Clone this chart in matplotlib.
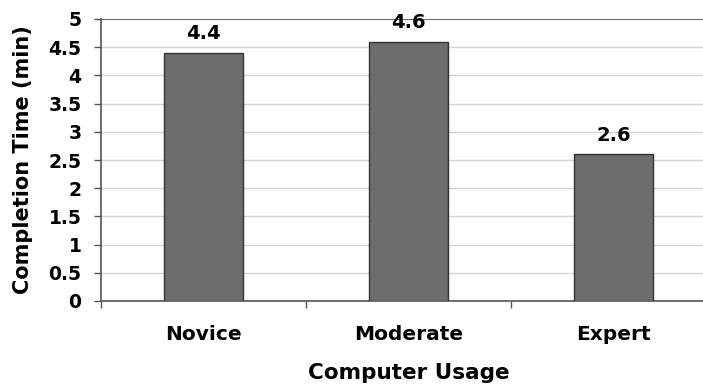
import matplotlib.pyplot as plt
import numpy as np

plt.rcParams['font.family'] = ['DejaVu Sans']
plt.rcParams['font.weight'] = 'bold'

categories = ['Novice', 'Moderate', 'Expert']
times = [4.4, 4.6, 2.6]
yticks = [0, 0.5, 1, 1.5, 2, 2.5, 3, 3.5, 4, 4.5, 5]
ytick_labels = ['0', '0.5', '1', '1.5', '2', '2.5', '3', '3.5', '4', '4.5', '5']

fig = plt.figure(figsize=(7.03, 3.84), dpi=100)
ax = fig.add_axes([101 / 703, 83 / 384, 615 / 703, 282 / 384])

x = np.arange(len(categories))
bars = ax.bar(x, times, width=0.39, color='#6d6d6d', edgecolor='#333333',
              linewidth=1, zorder=3)

# value labels above bars
for b, v in zip(bars, times):
    ax.text(b.get_x() + b.get_width() / 2, v + 0.17, f'{v:.1f}',
            ha='center', va='bottom', fontsize=14, fontweight='bold', zorder=4)

ax.set_xlim(-0.5, 2.5)
ax.set_ylim(0, 5)
ax.set_yticks(yticks)
ax.set_yticklabels(ytick_labels)
ax.set_xticks(x)
ax.set_xticklabels(categories)
ax.set_xticks([-0.5, 0.5, 1.5, 2.5], minor=True)
ax.tick_params(axis='x', which='major', length=0, pad=17, labelsize=14.5)
ax.tick_params(axis='x', which='minor', length=5, width=1, color='#555555')
ax.tick_params(axis='y', length=5, width=1, color='#555555', labelsize=13.5, pad=9)

ax.grid(axis='y', color='#d4d4d4', linewidth=1, zorder=0)
ax.axhline(5, color='#555555', linewidth=1.2, zorder=2)

for s in ['top', 'right']:
    ax.spines[s].set_visible(False)
for s in ['left', 'bottom']:
    ax.spines[s].set_color('#555555')
    ax.spines[s].set_linewidth(1.2)

ax.set_ylabel('Completion Time (min)', fontsize=15, fontweight='bold', labelpad=11)
ax.set_xlabel('Computer Usage', fontsize=15.5, fontweight='bold', labelpad=14)

fig.savefig('out.png', dpi=100)
